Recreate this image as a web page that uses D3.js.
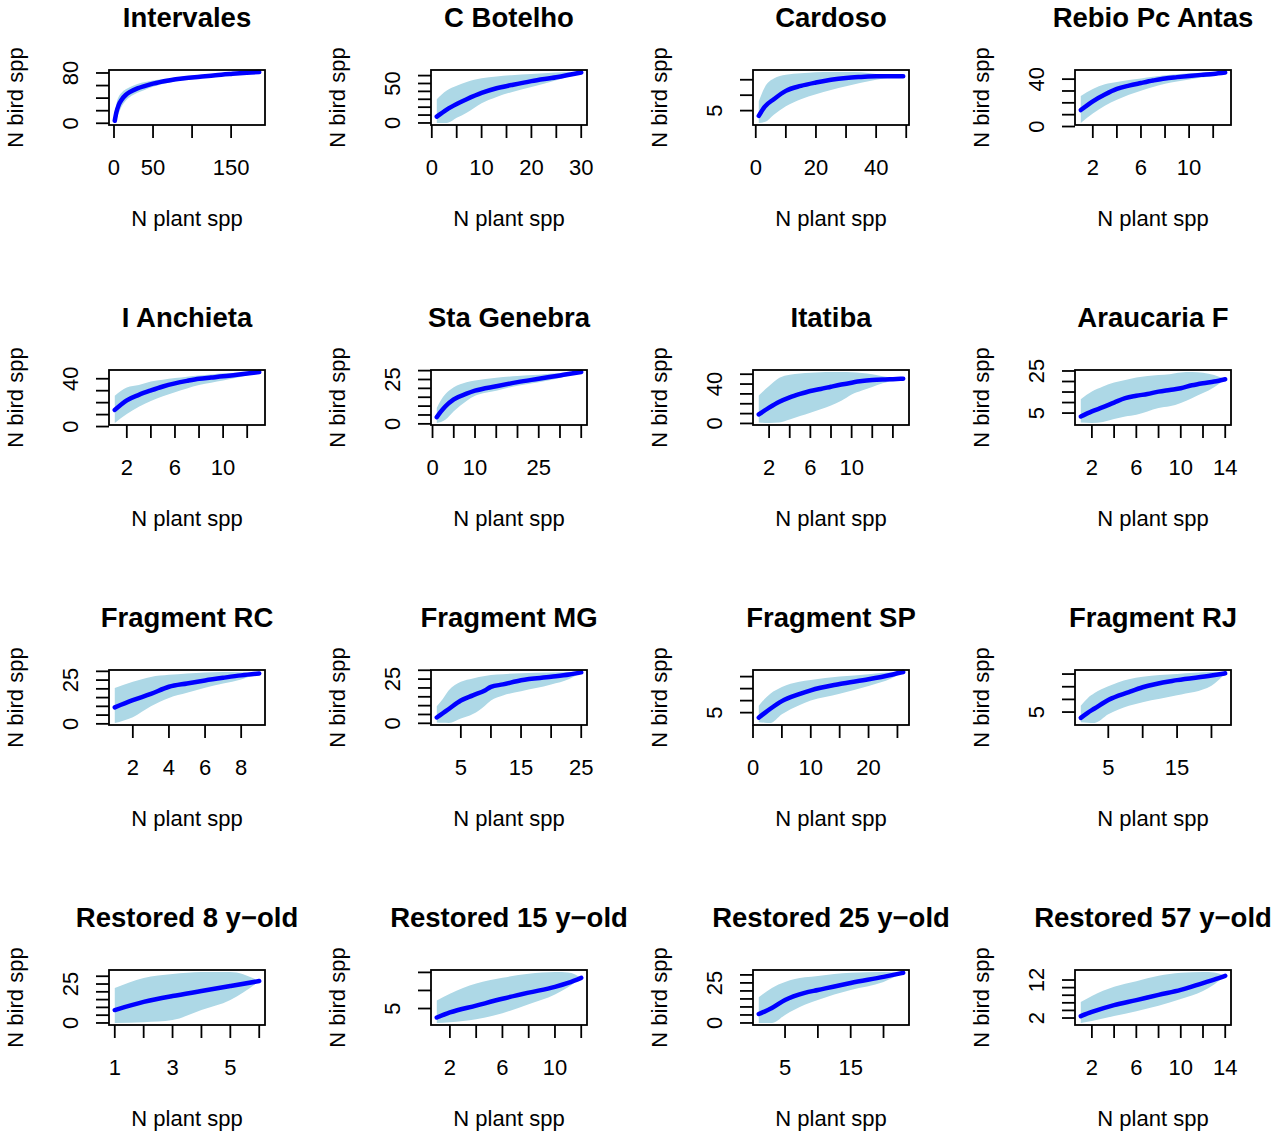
<!DOCTYPE html>
<html>
<head>
<meta charset="utf-8">
<script src="https://cdn.jsdelivr.net/npm/d3@7"></script>
<style>
  html, body { margin: 0; padding: 0; background: #fff; }
  svg text { font-family: "Liberation Sans", Arial, Helvetica, sans-serif; fill: #000; }
</style>
</head>
<body>
<svg id="chart" width="1275" height="1135"></svg>
<script>
// Rarefaction of bird species richness against plant species richness, one panel per site.

const siteNames = [
  "Intervales", "C Botelho", "Cardoso", "Rebio Pc Antas",
  "I Anchieta", "Sta Genebra", "Itatiba", "Araucaria F",
  "Fragment RC", "Fragment MG", "Fragment SP", "Fragment RJ",
  "Restored 8 y\u2212old", "Restored 15 y\u2212old", "Restored 25 y\u2212old", "Restored 57 y\u2212old"
];

// Number of plant species sampled (x) for each site
const plantCounts = [
  [1, 3, 6, 10, 15, 20, 30, 40, 50, 70, 90, 110, 130, 150, 170, 186],
  [1, 3, 5, 7, 10, 13, 16, 20, 25, 30],
  [1, 3, 6, 10, 15, 20, 25, 30, 35, 40, 45, 49],
  [1, 2, 3, 4, 5, 6, 7, 8, 9, 10, 11, 12, 13],
  [1, 2, 3, 4, 5, 6, 7, 8, 9, 10, 11, 12, 13],
  [1, 2, 3, 5, 8, 10, 15, 20, 25, 30, 35],
  [1, 2, 3, 4, 5, 6, 7, 8, 9, 10, 11, 12, 13, 14, 15],
  [1, 2, 3, 4, 5, 6, 7, 8, 9, 10, 11, 12, 13, 14],
  [1, 2, 3, 4, 5, 6, 7, 8, 9],
  [1, 2, 3, 5, 7, 9, 10, 12, 15, 20, 23, 25],
  [1, 2, 3, 5, 8, 10, 15, 20, 24, 26],
  [1, 2, 3, 5, 8, 10, 15, 20, 22],
  [1, 2, 3, 4, 5, 6],
  [1, 2, 4, 6, 8, 10, 11, 12],
  [1, 3, 5, 8, 10, 15, 20, 23],
  [1, 2, 4, 6, 8, 10, 12, 13, 14]
];

// Mean number of bird species
const birdMean = [
  [4, 17, 29, 38, 45, 49.5, 55.5, 59.5, 63, 68, 71.5, 74, 76.5, 78.5, 80.3, 81.5],
  [8, 17, 24, 30, 38, 44, 48, 53, 58, 64],
  [3.3, 6.3, 8.7, 11.4, 13, 14.1, 15, 15.6, 15.9, 16.1, 16.1, 16.1],
  [13.9, 21.3, 27, 31.7, 34.5, 36.7, 38.8, 40.6, 41.7, 42.7, 43.6, 44.4, 45.6],
  [13.9, 21.9, 26.5, 30.2, 33.5, 36.1, 38.2, 40, 41, 42, 43.2, 44.4, 45.6],
  [3.8, 7, 9.8, 13.8, 17, 18.7, 21.2, 23.5, 25.4, 27.3, 29.2],
  [9.2, 16, 22, 26.5, 30, 33, 35, 37.3, 39.5, 41.4, 43, 44, 44.6, 45, 45.4],
  [3.4, 5.8, 7.8, 10, 12.1, 13.2, 14.1, 15.2, 16, 16.8, 18.2, 19.2, 20, 21.1],
  [9.4, 13.5, 17.1, 21.2, 23.1, 24.8, 26.3, 27.7, 28.8],
  [3.3, 5.7, 8.1, 12.9, 15.8, 18.6, 20.6, 22, 24.4, 26.3, 27.6, 28.8],
  [2.9, 4.8, 6.6, 9.8, 12.7, 14.3, 16.9, 18.9, 20.8, 21.9],
  [2.7, 4.7, 6.4, 9.8, 12.9, 14.8, 17.6, 19.4, 20.3],
  [8.3, 13.5, 17.3, 20.5, 23.7, 26.9],
  [2.5, 3.9, 5.8, 7.7, 9.4, 11, 12.1, 13.5],
  [5.6, 9.4, 14.4, 18.8, 20.6, 25, 28.8, 31.3],
  [2.5, 3.6, 5.4, 6.7, 8.1, 9.4, 11.2, 12.1, 13.1]
];

// Lower bound of the confidence band
const birdLow = [
  [0.5, 6, 16, 27, 36, 41.5, 48.5, 53.5, 58, 64.5, 68.5, 71.5, 74.5, 77, 79.4, 81.5],
  [0, 0, 6.5, 13, 25, 33, 39, 45.5, 54, 64],
  [1, 1.3, 3.7, 6.4, 8.7, 10.3, 11.7, 12.9, 14, 15, 15.7, 16.1],
  [3, 11, 17.5, 22.5, 26.8, 30.2, 33.3, 36.1, 38, 39.7, 41.3, 42.7, 45.6],
  [3, 10.5, 16.5, 21.3, 25.3, 28.7, 31.9, 34.7, 36.7, 38.5, 40.6, 42.7, 45.6],
  [0.5, 1, 2.3, 7.1, 12.9, 15.8, 18.7, 21.5, 23.5, 25.8, 29.2],
  [1, 0.5, 1, 4, 7.5, 10.8, 14.5, 18.3, 23, 29.5, 33.5, 37, 40.7, 43, 45.4],
  [0.5, 0.3, 0.8, 2.2, 3.4, 4.2, 5.8, 7.4, 8.2, 9.8, 12.1, 14.5, 17.3, 21.1],
  [0.5, 3.8, 10, 14.8, 17.7, 20.6, 23, 25.4, 28.8],
  [0.5, 0.3, 0.2, 2.7, 5.2, 10, 12.9, 15.8, 18.1, 21.9, 25, 28.8],
  [1, 0.8, 0.7, 4.3, 8.1, 10, 12.9, 16.1, 19.3, 21.9],
  [1, 0.8, 0.7, 4.1, 7.5, 8.9, 11.6, 15.4, 20.3],
  [0, 0.5, 1.9, 8.3, 14.7, 26.9],
  [1, 1.2, 2, 3.7, 6.2, 8.9, 10.9, 13.5],
  [0, 0, 5, 11.3, 14.4, 20.6, 25.6, 31.3],
  [0.7, 1.2, 2.5, 3.8, 5.2, 7, 9.1, 10.8, 13.1]
];

// Upper bound of the confidence band
const birdHigh = [
  [12, 30, 42, 49, 54, 57.5, 62.5, 65.5, 68, 71.5, 74.5, 76.5, 78.5, 80, 81.2, 81.5],
  [30, 41, 47, 52, 56.5, 59, 60.5, 62, 64, 64.5],
  [8, 12.6, 15.4, 16.6, 17.1, 17.4, 17.5, 17.5, 17.4, 16.9, 16.4, 16.1],
  [25.8, 31.7, 35.6, 37.6, 39.2, 40.6, 42, 43.3, 44.2, 45, 45.5, 46, 45.6],
  [25.8, 32.6, 34.7, 37.6, 39.2, 40.6, 41.7, 42.7, 43.6, 44.5, 45, 45.5, 45.6],
  [9, 13.5, 16.7, 20.6, 23.5, 24.4, 26, 27, 27.7, 28.7, 29.2],
  [28.5, 38, 46.4, 49.5, 50.8, 51.5, 52, 52.2, 52.2, 52, 51.3, 50, 48, 46.5, 45.4],
  [11.6, 15.2, 17.6, 19.5, 20.7, 21.9, 22.6, 23.1, 23.5, 24.3, 24.5, 24.2, 23.1, 21.1],
  [20.5, 24, 26.8, 28, 28.8, 29.3, 29.6, 29.5, 28.8],
  [9.6, 13.8, 18.7, 23.5, 25.4, 26.7, 27.3, 27.8, 28.3, 28.8, 29, 28.8],
  [7.9, 10.7, 12.9, 15.7, 17.9, 18.6, 20, 21, 21.8, 21.9],
  [7.5, 10.5, 12.5, 15.2, 18, 18.9, 20, 20.8, 20.3],
  [22.4, 28.8, 31.4, 32.7, 32.7, 26.9],
  [7.2, 9.1, 11.9, 13.5, 14.6, 15.1, 15, 13.5],
  [16, 21.9, 25.6, 28.5, 29.4, 31.3, 31.8, 31.3],
  [6.2, 7.8, 10.2, 11.7, 13.1, 13.9, 14.1, 14, 13.1]
];

// Axis tick positions and the subset of them that carry a label
const xTickValues = [
  [0, 50, 100, 150], [0, 5, 10, 15, 20, 25, 30], [0, 10, 20, 30, 40, 50], [2, 4, 6, 8, 10, 12],
  [2, 4, 6, 8, 10, 12], [0, 5, 10, 15, 20, 25, 30, 35], [2, 4, 6, 8, 10, 12, 14], [2, 4, 6, 8, 10, 12, 14],
  [2, 4, 6, 8], [5, 10, 15, 20, 25], [0, 5, 10, 15, 20, 25], [5, 10, 15, 20],
  [1, 2, 3, 4, 5, 6], [2, 4, 6, 8, 10, 12], [5, 10, 15, 20], [2, 4, 6, 8, 10, 12, 14]
];
const xTickLabels = [
  [0, 50, 150], [0, 10, 20, 30], [0, 20, 40], [2, 6, 10],
  [2, 6, 10], [0, 10, 25], [2, 6, 10], [2, 6, 10, 14],
  [2, 4, 6, 8], [5, 15, 25], [0, 10, 20], [5, 15],
  [1, 3, 5], [2, 6, 10], [5, 15], [2, 6, 10, 14]
];
const yTickValues = [
  [0, 20, 40, 60, 80], [0, 10, 20, 30, 40, 50, 60], [5, 10, 15], [0, 10, 20, 30, 40],
  [0, 10, 20, 30, 40], [0, 5, 10, 15, 20, 25, 30], [0, 10, 20, 30, 40, 50], [5, 10, 15, 20, 25],
  [0, 5, 10, 15, 20, 25, 30], [0, 5, 10, 15, 20, 25, 30], [5, 10, 15, 20], [5, 10, 15, 20],
  [0, 5, 10, 15, 20, 25, 30], [5, 10, 15], [0, 5, 10, 15, 20, 25, 30], [2, 4, 6, 8, 10, 12]
];
const yTickLabels = [
  [0, 80], [0, 50], [5], [0, 40],
  [0, 40], [0, 25], [0, 40], [5, 25],
  [0, 25], [0, 25], [5], [5],
  [0, 25], [5], [0, 25], [2, 12]
];

const xTitle = "N plant spp";
const yTitle = "N bird spp";

// Panel layout
const boxLeft0 = 109, boxTop0 = 70, colStep = 322, rowStep = 300;
const boxW = 156, boxH = 55;
const tickLen = 13;

const svg = d3.select("#chart");

// Data range widened by 4% on each side, as a base-graphics plot does
function padded(lo, hi) {
  const r = hi - lo;
  return [lo - 0.04 * r, hi + 0.04 * r];
}

siteNames.forEach((name, i) => {
  const col = i % 4, row = Math.floor(i / 4);
  const left = boxLeft0 + col * colStep;
  const top = boxTop0 + row * rowStep;
  const right = left + boxW, bottom = top + boxH;

  const xs = plantCounts[i];
  const pts = xs.map((x, k) => ({ x, m: birdMean[i][k], lo: birdLow[i][k], hi: birdHigh[i][k] }));

  const x = d3.scaleLinear().domain(padded(d3.min(xs), d3.max(xs))).range([left, right]);
  const yMin = d3.min(pts, d => Math.min(d.lo, d.m));
  const yMax = d3.max(pts, d => Math.max(d.hi, d.m));
  const y = d3.scaleLinear().domain(padded(yMin, yMax)).range([bottom, top]);

  const g = svg.append("g");

  // Confidence band
  g.append("path")
    .datum(pts)
    .attr("d", d3.area().curve(d3.curveMonotoneX)
      .x(d => x(d.x)).y0(d => y(d.lo)).y1(d => y(d.hi)))
    .attr("fill", "#add8e6")
    .attr("stroke", "none");

  // Mean curve
  g.append("path")
    .datum(pts)
    .attr("d", d3.line().curve(d3.curveMonotoneX).x(d => x(d.x)).y(d => y(d.m)))
    .attr("fill", "none")
    .attr("stroke", "#0000ff")
    .attr("stroke-width", 4.5)
    .attr("stroke-linecap", "round")
    .attr("stroke-linejoin", "round");

  // Plot frame
  g.append("rect")
    .attr("x", left).attr("y", top).attr("width", boxW).attr("height", boxH)
    .attr("fill", "none").attr("stroke", "#000").attr("stroke-width", 1.8);

  // Bottom axis
  const xAxis = g.append("g");
  xAxis.selectAll("line").data(xTickValues[i]).join("line")
    .attr("x1", d => x(d)).attr("x2", d => x(d))
    .attr("y1", bottom).attr("y2", bottom + tickLen)
    .attr("stroke", "#000").attr("stroke-width", 1.8);
  xAxis.selectAll("text").data(xTickLabels[i]).join("text")
    .attr("x", d => x(d)).attr("y", bottom + 50)
    .attr("text-anchor", "middle")
    .attr("font-size", 22)
    .text(d => d);

  // Left axis
  const yAxis = g.append("g");
  yAxis.selectAll("line").data(yTickValues[i]).join("line")
    .attr("x1", left).attr("x2", left - tickLen)
    .attr("y1", d => y(d)).attr("y2", d => y(d))
    .attr("stroke", "#000").attr("stroke-width", 1.8);
  yAxis.selectAll("text").data(yTickLabels[i]).join("text")
    .attr("transform", d => `translate(${left - 31},${y(d)}) rotate(-90)`)
    .attr("text-anchor", "middle")
    .attr("font-size", 22)
    .text(d => d);

  // Titles
  g.append("text")
    .attr("x", (left + right) / 2).attr("y", top - 43)
    .attr("text-anchor", "middle")
    .attr("font-size", 27.5)
    .attr("font-weight", "bold")
    .text(name);

  g.append("text")
    .attr("x", (left + right) / 2).attr("y", bottom + 101)
    .attr("text-anchor", "middle")
    .attr("font-size", 22)
    .text(xTitle);

  g.append("text")
    .attr("transform", `translate(${left - 86},${(top + bottom) / 2}) rotate(-90)`)
    .attr("text-anchor", "middle")
    .attr("font-size", 22)
    .text(yTitle);
});
</script>
</body>
</html>
